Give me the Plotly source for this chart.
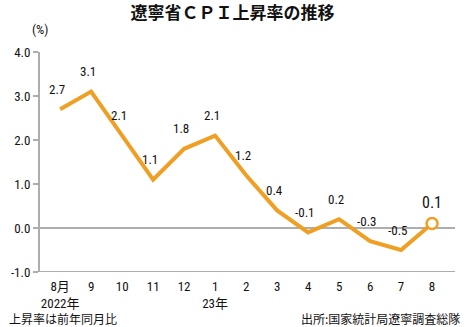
import plotly.graph_objects as go

months = ["8月", "9", "10", "11", "12", "1", "2", "3", "4", "5", "6", "7", "8"]
tick_labels = ["8月<br>2022年", "9", "10", "11", "12", "1<br>23年", "2", "3", "4", "5", "6", "7", "8"]
values = [2.7, 3.1, 2.1, 1.1, 1.8, 2.1, 1.2, 0.4, -0.1, 0.2, -0.3, -0.5, 0.1]
y_ticks = [-1.0, 0.0, 1.0, 2.0, 3.0, 4.0]

ORANGE = "#EF9F23"
GRAY = "#ADADAD"
NUM_FONT = "Liberation Sans Narrow, Roboto Condensed, Arial Narrow, Noto Sans CJK JP, sans-serif"
JP_FONT = "Noto Sans CJK JP, sans-serif"

x_idx = list(range(len(months)))

fig = go.Figure()
fig.add_trace(go.Scatter(
    x=x_idx, y=values, mode="lines",
    line=dict(color=ORANGE, width=4),
    hoverinfo="skip", showlegend=False,
))
fig.add_trace(go.Scatter(
    x=[x_idx[-1]], y=[values[-1]], mode="markers",
    marker=dict(size=11, color="white", line=dict(color=ORANGE, width=2.5)),
    hoverinfo="skip", showlegend=False,
))

annotations = []
for i, v in enumerate(values):
    last = i == len(values) - 1
    annotations.append(dict(
        x=i, y=v, xref="x", yref="y", text=f"{v:.1f}", showarrow=False,
        yshift=21 if last else 20, xshift=0 if last else -3,
        font=dict(family=NUM_FONT, size=16 if last else 13, color="#111111"),
    ))

fig.update_layout(
    width=465, height=327,
    margin=dict(l=40, r=10, t=52, b=55),
    paper_bgcolor="white", plot_bgcolor="white",
    title=dict(text="<b>遼寧省ＣＰＩ上昇率の推移</b>", x=0.5, xanchor="center",
               y=1 - 13 / 327, yanchor="middle",
               font=dict(family=JP_FONT, size=17, color="#111111")),
    xaxis=dict(range=[-0.65, 12.74], tickmode="array", tickvals=x_idx, ticktext=tick_labels,
               showgrid=False, zeroline=False, showline=False, ticks="",
               ticklabelstandoff=5,
               tickfont=dict(family=NUM_FONT, size=13, color="#111111"), fixedrange=True),
    yaxis=dict(range=[-1, 4], tickmode="array", tickvals=y_ticks,
               ticktext=[f"{t:.1f}" for t in y_ticks],
               showgrid=False, zeroline=True, zerolinecolor=GRAY, zerolinewidth=2,
               showline=True, linecolor=GRAY, linewidth=2,
               ticks="outside", ticklen=5, tickcolor=GRAY, tickwidth=1.5,
               tickfont=dict(family=NUM_FONT, size=13, color="#111111"), fixedrange=True),
    annotations=annotations,
)

# x-axis baseline at y=-1 (bottom of plot area)
fig.add_shape(type="line", xref="paper", yref="y", x0=0, x1=1, y0=-1, y1=-1,
              line=dict(color=GRAY, width=2), layer="below")

# unit label and footnotes
fig.add_annotation(x=0, y=1, xref="paper", yref="paper", xanchor="center", yanchor="middle",
                   yshift=23, text="(%)", showarrow=False,
                   font=dict(family=NUM_FONT, size=13, color="#111111"))
fig.add_annotation(x=0, y=0, xref="paper", yref="paper", xanchor="left", yanchor="middle",
                   xshift=-33, yshift=-46, text="上昇率は前年同月比", showarrow=False,
                   font=dict(family=JP_FONT, size=12, color="#111111"))
fig.add_annotation(x=1, y=0, xref="paper", yref="paper", xanchor="right", yanchor="middle",
                   xshift=7, yshift=-46, text="出所:国家統計局遼寧調査総隊", showarrow=False,
                   font=dict(family=JP_FONT, size=12, color="#111111"))

fig.write_html("out.html")
